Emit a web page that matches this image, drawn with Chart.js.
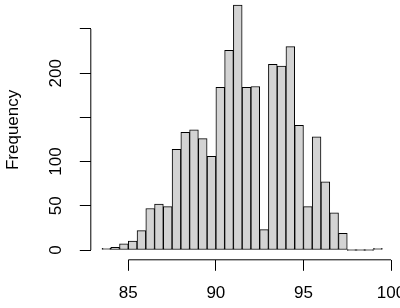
<!DOCTYPE html>
<html>
<head>
<meta charset="utf-8">
<script src="https://cdn.jsdelivr.net/npm/chart.js@4"></script>
<style>
  body { margin: 0; background: #fff; }
  #wrap { width: 400px; height: 308px; }
</style>
</head>
<body>
<div id="wrap"><canvas id="hist" width="400" height="308"></canvas></div>
<script>
// histogram bins (width 0.5), centres and counts
const binCenters = [83.75, 84.25, 84.75, 85.25, 85.75, 86.25, 86.75, 87.25,
                    87.75, 88.25, 88.75, 89.25, 89.75, 90.25, 90.75, 91.25,
                    91.75, 92.25, 92.75, 93.25, 93.75, 94.25, 94.75, 95.25,
                    95.75, 96.25, 96.75, 97.25, 97.75, 98.25, 98.75, 99.25];
const counts = [2, 3, 7, 10, 22, 47, 52, 49,
                114, 133, 136, 126, 106, 184, 226, 277,
                184, 185, 23, 210, 208, 230, 141, 49,
                128, 77, 42, 19, 0, 0, 0, 2];
const xTicks = [85, 90, 95, 100];
const yTicks = [0, 50, 100, 150, 200, 250];
const yLabels = ['0', '50', '100', '', '200', ''];

const points = [];
for (let i = 0; i < binCenters.length; i++) {
  points.push({x: binCenters[i], y: counts[i]});
}

const font = {family: "'Liberation Sans', Arial, sans-serif", size: 17};

// R style axes: the line only runs from the first to the last tick
const rAxes = {
  id: 'rAxes',
  afterDraw(chart) {
    const ctx = chart.ctx;
    const xs = chart.scales.x, ys = chart.scales.y;
    const area = chart.chartArea;
    ctx.save();
    ctx.strokeStyle = '#000';
    ctx.lineWidth = 1;
    ctx.beginPath();
    ctx.moveTo(xs.getPixelForValue(xTicks[0]), area.bottom);
    ctx.lineTo(xs.getPixelForValue(xTicks[xTicks.length - 1]), area.bottom);
    ctx.moveTo(area.left, ys.getPixelForValue(yTicks[0]));
    ctx.lineTo(area.left, ys.getPixelForValue(yTicks[yTicks.length - 1]));
    ctx.stroke();
    ctx.restore();
  }
};

new Chart(document.getElementById('hist'), {
  type: 'bar',
  data: {
    datasets: [{
      data: points,
      backgroundColor: '#d3d3d3',
      borderColor: '#000',
      borderWidth: 1,
      borderSkipped: false,
      minBarLength: 1,
      barPercentage: 1,
      categoryPercentage: 1
    }]
  },
  options: {
    responsive: false,
    animation: false,
    layout: {padding: {top: 0, right: 6.5, bottom: 0, left: 0}},
    plugins: {legend: {display: false}, tooltip: {enabled: false}},
    scales: {
      x: {
        type: 'linear',
        offset: false,
        min: 82.86,
        max: 100.14,
        afterBuildTicks: s => { s.ticks = xTicks.map(v => ({value: v})); },
        afterFit: s => { s.height = 48.2; s.paddingLeft = 0; s.paddingRight = 0; },
        border: {display: false},
        grid: {offset: false, drawOnChartArea: false, drawTicks: true, tickLength: 11, color: '#000'},
        ticks: {color: '#000', font: font, padding: 12, maxRotation: 0, autoSkip: false}
      },
      y: {
        type: 'linear',
        min: -11.08,
        max: 282.8,
        afterBuildTicks: s => { s.ticks = yTicks.map(v => ({value: v})); },
        afterFit: s => { s.width = 90.8; s.paddingTop = 0; s.paddingBottom = 0; },
        border: {display: false},
        grid: {drawOnChartArea: false, drawTicks: true, tickLength: 11, color: '#000'},
        ticks: {
          color: '#000', font: font, padding: 9,
          minRotation: 90, maxRotation: 90, crossAlign: 'center',
          callback: (v, i) => yLabels[i]
        },
        title: {display: true, text: 'Frequency', color: '#000', font: font, padding: {top: 3, bottom: 0}}
      }
    }
  },
  plugins: [rAxes]
});
</script>
</body>
</html>
